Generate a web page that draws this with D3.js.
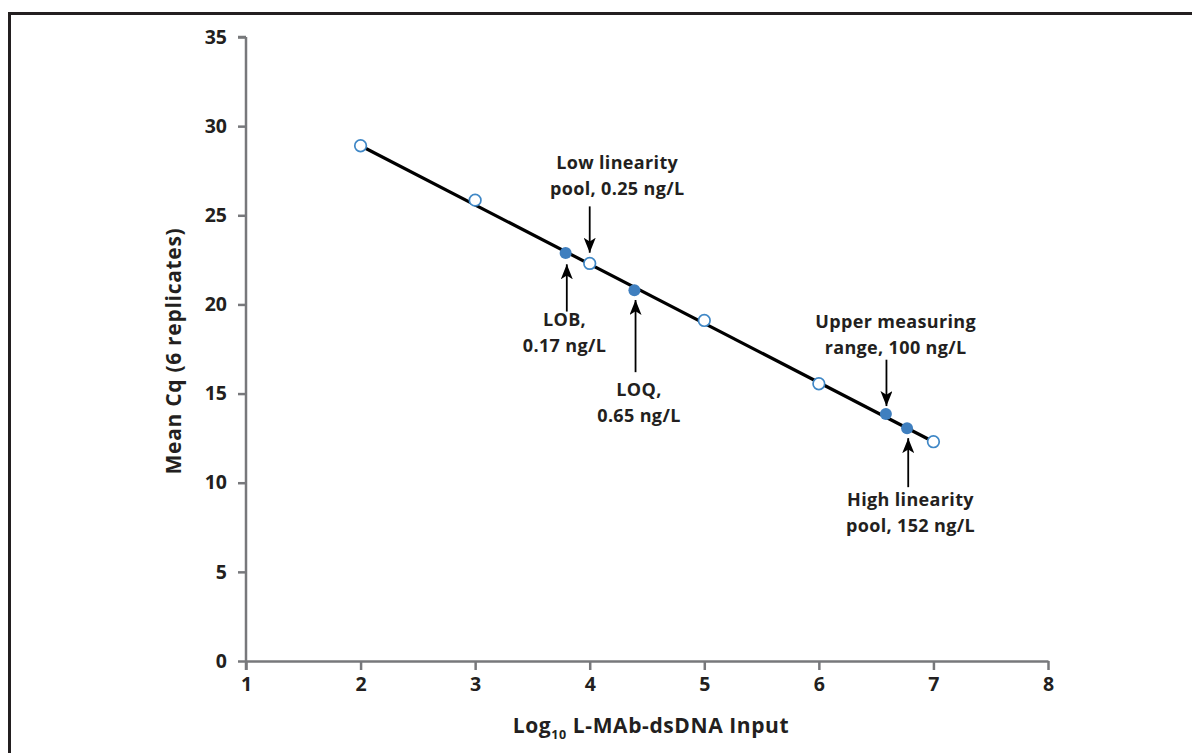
<!DOCTYPE html>
<html>
<head>
<meta charset="utf-8">
<script src="https://cdn.jsdelivr.net/npm/d3@7"></script>
<style>
  body { margin: 0; background: #fff; }
  text { font-family: "Open Sans", "DejaVu Sans", sans-serif; font-weight: bold; fill: #231f20; }
</style>
</head>
<body>
<div id="chart"></div>
<script>
// standard curve points (open circles)
var curveX = [2, 3, 4, 5, 6, 7];
var curveY = [28.9, 25.85, 22.3, 19.1, 15.55, 12.3];

// key sample points (filled)
var keyNames = ["LOB", "LOQ", "Upper", "High"];
var keyX = [3.79, 4.39, 6.585, 6.77];
var keyY = [22.88, 20.8, 13.85, 13.05];

// regression line end points
var fitX = [2, 7];
var fitY = [28.9, 12.3];

var xTicks = [1, 2, 3, 4, 5, 6, 7, 8];
var yTicks = [0, 5, 10, 15, 20, 25, 30, 35];

// annotation text, arrows as [x, yFrom, yTo] in data units
var notes = [
  {lines: ["Low linearity", "pool, 0.25 ng/L"], x: 4.24, y: 27.6, arrowX: 4.0, from: 25.5, to: 22.9},
  {lines: ["LOB,", "0.17 ng/L"], x: 3.78, y: 18.8, arrowX: 3.8, from: 19.6, to: 22.25},
  {lines: ["LOQ,", "0.65 ng/L"], x: 4.43, y: 14.85, arrowX: 4.4, from: 16.2, to: 20.25},
  {lines: ["Upper measuring", "range, 100 ng/L"], x: 6.67, y: 18.7, arrowX: 6.59, from: 16.9, to: 14.3},
  {lines: ["High linearity", "pool, 152 ng/L"], x: 6.8, y: 8.7, arrowX: 6.78, from: 9.75, to: 12.5}
];

var width = 1192, height = 753;
var margin = {left: 246, right: 144, top: 37, bottom: 92};

var svg = d3.select("#chart").append("svg")
  .attr("width", width)
  .attr("height", height);

// outer frame (runs off the right and bottom edges)
svg.append("rect")
  .attr("x", 9.5).attr("y", 13.5)
  .attr("width", width + 20).attr("height", height + 20)
  .attr("fill", "none")
  .attr("stroke", "#231f20")
  .attr("stroke-width", 3);

var x = d3.scaleLinear().domain([1, 8]).range([margin.left, width - margin.right]);
var y = d3.scaleLinear().domain([0, 35]).range([height - margin.bottom, margin.top]);

var defs = svg.append("defs");
defs.append("marker")
  .attr("id", "arrow")
  .attr("viewBox", "0 0 10 10")
  .attr("refX", 10).attr("refY", 5)
  .attr("markerWidth", 15).attr("markerHeight", 12)
  .attr("markerUnits", "userSpaceOnUse")
  .attr("orient", "auto")
  .attr("preserveAspectRatio", "none")
  .append("path")
  .attr("d", "M0,0 L10,5 L0,10 L2.5,5 Z")
  .attr("fill", "#000");

// axes
var xAxis = svg.append("g")
  .attr("transform", "translate(0," + y(0) + ")")
  .call(d3.axisBottom(x).tickValues(xTicks).tickFormat(d3.format("d"))
    .tickSize(9).tickSizeOuter(0).tickPadding(7));
var yAxis = svg.append("g")
  .attr("transform", "translate(" + x(1) + ",0)")
  .call(d3.axisLeft(y).tickValues(yTicks).tickSize(8).tickSizeOuter(0).tickPadding(11));

[xAxis, yAxis].forEach(function(g) {
  g.select(".domain").attr("stroke", "#77787b").attr("stroke-width", 2.5);
  g.selectAll(".tick line").attr("stroke", "#77787b").attr("stroke-width", 2.5);
  g.selectAll(".tick text")
    .attr("fill", "#231f20")
    .style("font-family", "'Open Sans', 'DejaVu Sans', sans-serif")
    .style("font-weight", "bold")
    .style("font-size", "19.5px");
});
// extend y domain down over the x axis line like the reference
yAxis.select(".domain").attr("d", "M0," + y(35) + "V" + (y(0) + 9));
yAxis.append("line")
  .attr("x1", -8).attr("x2", 0).attr("y1", y(35)).attr("y2", y(35))
  .attr("stroke", "#77787b").attr("stroke-width", 2.5);

// axis titles
svg.append("text")
  .attr("transform", "translate(181," + 351 + ") rotate(-90)")
  .attr("text-anchor", "middle")
  .style("font-size", "21px")
  .style("letter-spacing", "0.7px")
  .text("Mean Cq (6 replicates)");

var xt = svg.append("text")
  .attr("x", 651).attr("y", 733)
  .attr("text-anchor", "middle")
  .style("font-size", "21px")
  .style("letter-spacing", "0.6px");
xt.append("tspan").text("Log");
xt.append("tspan").attr("dy", 6).style("font-size", "12.5px").text("10");
xt.append("tspan").attr("dy", -6).text(" L-MAb-dsDNA Input");

// regression line
svg.append("line")
  .attr("x1", x(fitX[0])).attr("y1", y(fitY[0]))
  .attr("x2", x(fitX[1])).attr("y2", y(fitY[1]))
  .attr("stroke", "#000")
  .attr("stroke-width", 3.2);

// open circles
svg.selectAll(".open")
  .data(curveX.map(function(d, i) { return {x: d, y: curveY[i]}; }))
  .enter().append("circle")
  .attr("class", "open")
  .attr("cx", function(d) { return x(d.x); })
  .attr("cy", function(d) { return y(d.y); })
  .attr("r", 5.8)
  .attr("fill", "#fff")
  .attr("stroke", "#3f87c6")
  .attr("stroke-width", 1.7);

// filled circles
svg.selectAll(".key")
  .data(keyX.map(function(d, i) { return {name: keyNames[i], x: d, y: keyY[i]}; }))
  .enter().append("circle")
  .attr("class", "key")
  .attr("cx", function(d) { return x(d.x); })
  .attr("cy", function(d) { return y(d.y); })
  .attr("r", 6)
  .attr("fill", "#3f7fbf");

// annotations
notes.forEach(function(n) {
  svg.append("line")
    .attr("x1", x(n.arrowX)).attr("x2", x(n.arrowX))
    .attr("y1", y(n.from)).attr("y2", y(n.to))
    .attr("stroke", "#000")
    .attr("stroke-width", 1.8)
    .attr("marker-end", "url(#arrow)");
  var t = svg.append("text")
    .attr("x", x(n.x)).attr("y", y(n.y))
    .attr("text-anchor", "middle")
    .style("font-size", "18px")
    .style("letter-spacing", "0.35px");
  n.lines.forEach(function(l, i) {
    t.append("tspan").attr("x", x(n.x)).attr("dy", i === 0 ? 0 : 26).text(l);
  });
});
</script>
</body>
</html>
